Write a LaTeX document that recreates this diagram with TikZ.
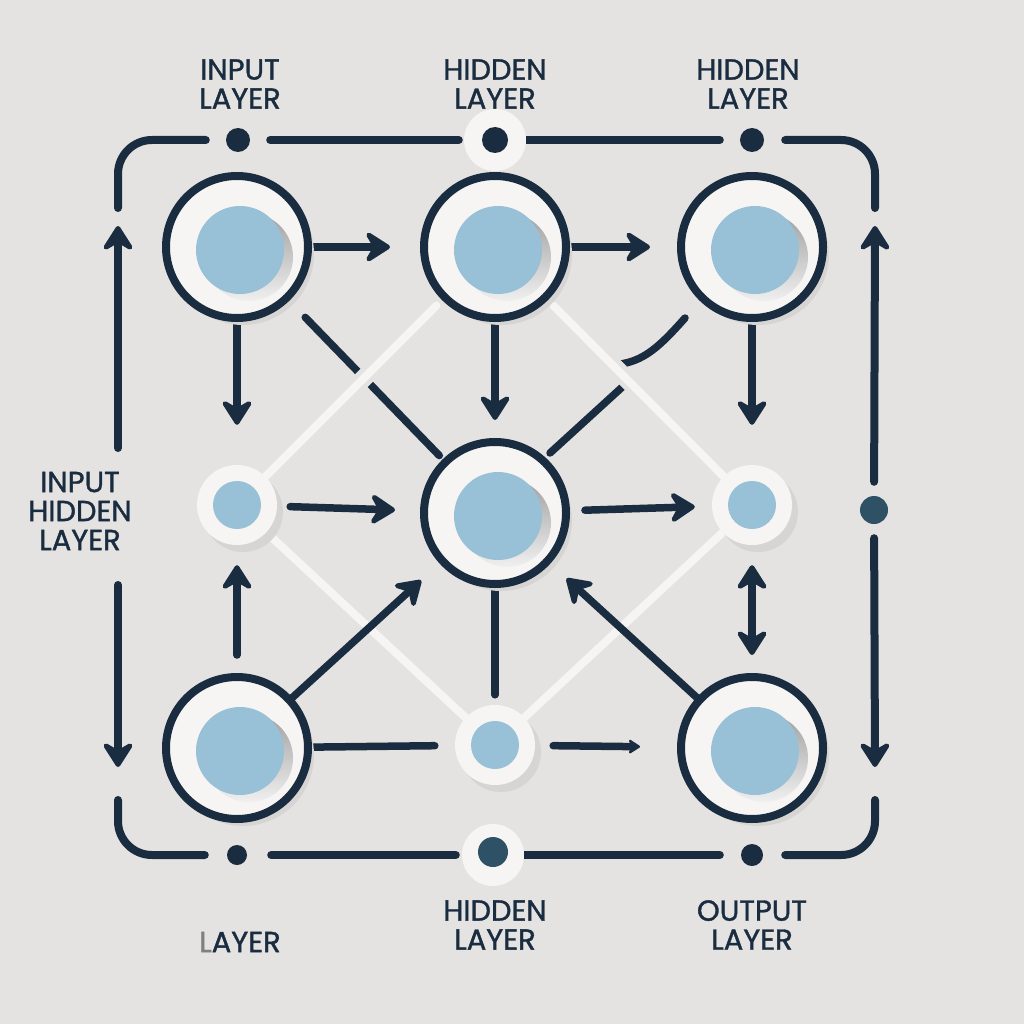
\documentclass[tikz,border=0pt]{standalone}
\usepackage{fontspec}
\setmainfont{Poppins}
\newfontfamily\lblfont{Poppins}[FakeBold=1.2]
\usetikzlibrary{arrows.meta,shadows}

\definecolor{bgcol}{HTML}{E5E3E1}
\definecolor{navy}{HTML}{1A2C3F}
\definecolor{paleblue}{HTML}{98C0D7}
\definecolor{ring}{HTML}{F6F5F3}
\definecolor{shade}{HTML}{D7D5D3}
\definecolor{deepteal}{HTML}{2E5166}

\pgfdeclarelayer{back}
\pgfdeclarelayer{lines}
\pgfsetlayers{back,lines,main}

\begin{document}
\begin{tikzpicture}[x=1pt,y=-1pt,
	bignode/.style={circle,draw=navy,line width=8pt,fill=ring,minimum size=142pt,inner sep=0pt,
		drop shadow={shadow xshift=6pt,shadow yshift=-7pt,fill=shade,opacity=1},
		path picture={\fill[shade] ([shift={(12,10)}]path picture bounding box.center) circle (44pt);
			\fill[paleblue] ([shift={(3,3)}]path picture bounding box.center) circle (44pt);}},
	smallnode/.style={circle,fill=ring,minimum size=80pt,inner sep=0pt,
		drop shadow={shadow xshift=6pt,shadow yshift=-7pt,fill=shade,opacity=1},
		path picture={\fill[paleblue] (path picture bounding box.center) circle (24pt);}},
	dot/.style={circle,fill=navy,inner sep=0pt,minimum size=24pt},
	halo/.style={circle,fill=ring,inner sep=0pt,minimum size=62pt},
	link/.style={draw=navy,line width=7.5pt,line cap=round},
	tip/.style={-{Stealth[length=30pt,width=38pt,inset=11pt,round]}},
	arr/.style={link,tip},
	wire/.style={draw=ring,line width=8pt,line cap=round,preaction={draw=bgcol,line width=18pt}},
	frame/.style={draw=navy,line width=8pt,line cap=round,rounded corners=34pt},
	lbl/.style={text=navy,font=\lblfont\fontsize{29}{29}\selectfont,align=center}
]
\useasboundingbox (0,0) rectangle (1024,1024);
\begin{pgfonlayer}{back}
	\fill[bgcol] (0,0) rectangle (1024,1024);
\end{pgfonlayer}

% layer nodes
\node[bignode] (in1) at (237,247) {};
\node[bignode] (hid1) at (495,247) {};
\node[bignode] (hid2) at (752,247) {};
\node[smallnode] (mid1) at (237,505) {};
\node[bignode] (core) at (495,513) {};
\node[smallnode] (mid2) at (752,505) {};
\node[bignode] (out1) at (237,748) {};
\node[smallnode] (mid3) at (495,745) {};
\node[bignode] (out2) at (752,748) {};

% dots on the frame
\node[dot] (t1) at (238,140) {};
\node[halo] (t2h) at (495,140) {};
\node[dot,minimum size=26pt] (t2) at (495,140) {};
\node[dot] (t3) at (752,140) {};
\node[dot,fill=deepteal,minimum size=28pt] (r1) at (874,510) {};
\node[dot,minimum size=20pt] (b1) at (237,855) {};
\node[halo] (b2h) at (493,855) {};
\node[dot,fill=deepteal,minimum size=30pt] (b2) at (493,852) {};
\node[dot,minimum size=22pt] (b3) at (752,855) {};

% free ends
\coordinate (ltop) at (118,208);
\coordinate (lup) at (118,448);
\coordinate (ltip) at (118,226);
\coordinate (ldown) at (118,585);
\coordinate (ltip2) at (118,767);
\coordinate (lbot) at (118,800);
\coordinate (rtop) at (875,208);
\coordinate (rtip) at (875,226);
\coordinate (rtip2) at (875,767);
\coordinate (rbot) at (875,800);
\coordinate (kinka) at (685,318);
\coordinate (kinkb) at (612,365);
\coordinate (kinkc) at (630,380);
\coordinate (kinkd) at (550,453);

% labels
\node[lbl] (lblin) at (240,84) {INPUT\\LAYER};
\node[lbl] (lblh1) at (495,84) {HIDDEN\\LAYER};
\node[lbl] (lblh2) at (748,84) {HIDDEN\\LAYER};
\node[lbl] (lblside) at (80,511) {INPUT\\HIDDEN\\LAYER};
\node[lbl] (lblbot) at (240,942) {{\color{gray}L}AYER};
\node[lbl] (lblh3) at (495,925) {HIDDEN\\LAYER};
\node[lbl] (lblout) at (752,925) {OUTPUT\\LAYER};

\begin{pgfonlayer}{lines}
	% frame
	\draw[frame,shorten >=20pt] (ltop) |- (t1);
	\draw[frame,shorten <=20pt,shorten >=5pt] (t1) -- (t2h);
	\draw[frame,shorten >=20pt] (t2h) -- (t3);
	\draw[frame,shorten <=21pt] (t3) -| (rtop);
	\draw[frame,tip] (lup) -- (ltip);
	\draw[frame,tip] (ldown) -- (ltip2);
	\draw[frame,tip,shorten <=14pt] (r1) -- (rtip);
	\draw[frame,tip,shorten <=14pt] (r1) -- (rtip2);
	\draw[frame,shorten >=22pt] (lbot) |- (b1);
	\draw[frame,shorten <=24pt,shorten >=6pt] (b1) -- (b2h);
	\draw[frame,shorten >=21pt] (b2h) -- (b3);
	\draw[frame,shorten <=22pt] (b3) -| (rbot);

	% dark diagonals under the wires
	\draw[link,shorten <=23pt,shorten >=5pt] (in1) -- (core);
	\draw[link] (kinka) .. controls (655,352) and (640,363) .. (kinkb) (kinkc) -- (kinkd);

	% light wires
	\draw[wire,shorten <=8pt] (hid1) -- (mid1);
	\draw[wire,shorten <=8pt] (hid1) -- (mid2);
	\draw[wire] (mid1) -- (mid3);
	\draw[wire] (mid2) -- (mid3);

	% arrows
	\draw[arr,shorten >=30pt] (in1) -- (hid1);
	\draw[arr,shorten >=27pt] (hid1) -- (hid2);
	\draw[arr,shorten >=40pt] (in1) -- (mid1);
	\draw[arr,shorten >=18pt] (hid1) -- (core);
	\draw[arr,shorten >=40pt] (hid2) -- (mid2);
	\draw[arr,shorten <=13pt,shorten >=25pt] (mid1) -- (core);
	\draw[arr,shorten <=15pt,shorten >=17pt] (core) -- (mid2);
	\draw[arr,shorten <=18pt,shorten >=20pt] (out1) -- (mid1);
	\draw[link,{Stealth[length=30pt,width=38pt,inset=11pt,round]}-{Stealth[length=30pt,width=38pt,inset=11pt,round]},shorten <=20pt,shorten >=18pt] (mid2) -- (out2);
	\draw[arr,shorten >=25pt] (out1) -- (core);
	\draw[arr,shorten >=22pt] (out2) -- (core);
	\draw[link,shorten >=10pt] (core) -- (mid3);
	\draw[link,shorten >=20pt] (out1) -- (mid3);
	\draw[link,-{Stealth[length=14pt,width=18pt,inset=5pt,round]},shorten <=18pt,shorten >=37pt] (mid3) -- (out2);
\end{pgfonlayer}
\end{tikzpicture}
\end{document}
